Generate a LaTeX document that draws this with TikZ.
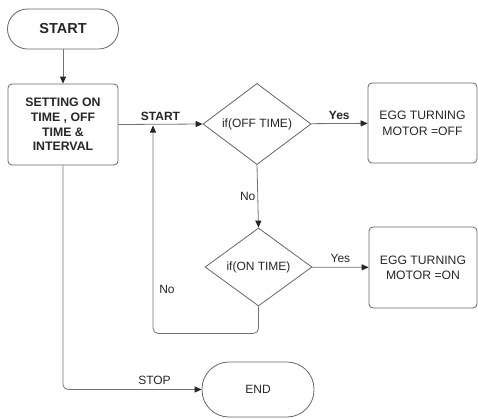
\documentclass[tikz,border=0pt]{standalone}
\usepackage{fontspec}
\setmainfont{Liberation Sans}
\usetikzlibrary{shapes.geometric,arrows.meta}
\begin{document}
\begin{tikzpicture}[x=1pt,y=-1pt,
  txt/.style={text=black!85, font=\fontsize{12}{15}\selectfont},
  btxt/.style={text=black!85, font=\bfseries\fontsize{12}{15}\selectfont},
  shp/.style={draw=black!60, line width=0.8pt, align=center, inner sep=0pt},
  term/.style={shp, minimum width=111pt},
  procbox/.style={shp, rounded corners=4pt},
  decision/.style={shp, diamond, minimum width=108pt, minimum height=78pt},
  line/.style={draw=black!55, line width=0.8pt},
  arr/.style={line, -{Triangle[length=7pt,width=6pt,color=black!85]}},
  lbl/.style={txt, inner sep=2pt}
]
\useasboundingbox (0,0) rectangle (478,418);
\node[term, btxt, minimum height=40pt, rounded corners=20pt, font=\bfseries\fontsize{14.5}{17}\selectfont] (start) at (63,29) {START};
\node[procbox, btxt, minimum width=110pt, minimum height=81pt, font=\bfseries\fontsize{12.3}{14.7}\selectfont] (set) at (63,124.5) {SETTING ON\\TIME , OFF\\TIME \&\\INTERVAL};
\node[decision, txt] (d1) at (257,124) {if(OFF TIME)};
\node[procbox, txt, minimum width=109pt, minimum height=80pt, font=\fontsize{12.2}{16}\selectfont] (off) at (422.5,123) {EGG TURNING\\MOTOR =OFF};
\node[decision, txt, minimum width=107pt] (d2) at (258.5,267) {if(ON TIME)};
\node[procbox, txt, minimum width=108pt, minimum height=81pt, font=\fontsize{12.2}{15}\selectfont] (on) at (423,267.5) {EGG TURNING\\MOTOR =ON};
\node[term, txt, minimum width=112pt, minimum height=55pt, rounded corners=27pt] (end) at (258,389.5) {END};
\coordinate (j) at (153,125.5);

\draw[arr] (start) -- (set);
\draw[arr] (set.east) -- node[btxt, above, pos=0.5, inner sep=3pt] {START} (d1.west);
\draw[arr] (d1) -- node[btxt, above, inner sep=3pt] {Yes} (off);
\draw[arr] (d1.south) -- node[lbl, left] {No} (d2.north);
\draw[arr] (d2) -- node[lbl, above, inner sep=4pt] {Yes} (on);
\draw[arr, rounded corners=5pt] (d2.south) -- ++(0,27) -| (j);
\node[lbl] (no2) at (167,289) {No};
\draw[arr, rounded corners=5pt] (set.south) |- node[lbl, above, pos=0.83, inner sep=4pt] {STOP} (end.west);
\end{tikzpicture}
\end{document}
